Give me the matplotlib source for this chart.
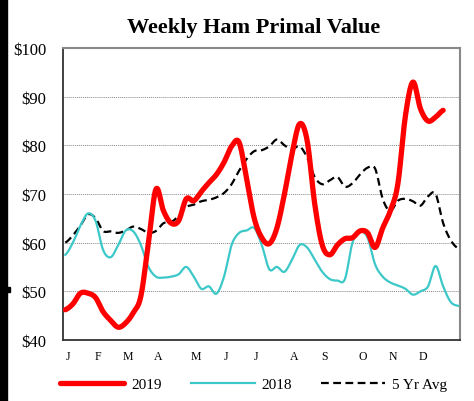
import numpy as np
import matplotlib
matplotlib.use("Agg")
import matplotlib.pyplot as plt
from matplotlib.patches import Rectangle

# weekly values ($/cwt)
val_2019 = [46.2, 47.4, 49.6, 49.6, 48.7, 45.8, 44.0, 42.6, 43.5, 45.6,
            49.0, 60.0, 71.0, 66.5, 64.0, 64.5, 69.0, 68.6, 70.5, 72.3,
            74.0, 76.5, 79.8, 80.6, 73.0, 65.0, 61.0, 59.8, 63.0, 70.0,
            78.2, 84.4, 81.0, 68.0, 59.5, 57.5, 59.5, 60.8, 61.0, 62.4,
            62.0, 59.0, 63.0, 66.5, 72.0, 86.0, 93.0, 87.5, 85.0, 85.8,
            87.2]
val_2018 = [57.5, 60.0, 63.5, 66.0, 64.5, 58.5, 57.0, 59.5, 62.5, 62.3,
            59.5, 55.0, 53.0, 52.8, 53.0, 53.5, 55.0, 53.0, 50.5, 51.0,
            49.5, 53.0, 59.5, 62.0, 62.5, 63.0, 59.5, 54.5, 55.0, 54.0,
            56.5, 59.5, 59.0, 56.5, 54.0, 52.5, 52.2, 52.5, 60.0, 62.2,
            61.0, 55.5, 53.0, 51.8, 51.2, 50.5, 49.3, 50.0, 51.0, 55.2,
            51.0, 47.8, 47.0]
val_5yr = [60.0, 61.5, 63.5, 65.8, 65.0, 62.4, 62.3, 62.0, 62.5, 63.3,
           62.8, 62.0, 62.4, 64.0, 64.2, 65.5, 67.3, 67.8, 68.5, 68.8,
           69.3, 70.2, 72.0, 74.8, 77.2, 78.8, 79.0, 79.8, 81.2, 80.0,
           79.2, 79.8, 77.5, 73.5, 72.0, 72.8, 73.5, 71.5, 72.2, 74.0,
           75.4, 75.2, 69.0, 66.5, 68.6, 69.0, 68.5, 67.6, 69.5, 70.0,
           64.0, 60.5, 58.8]

months = ["J", "F", "M", "A", "M", "J", "J", "A", "S", "O", "N", "D"]
month_week = [0, 4, 8, 12, 17, 21, 25, 30, 34, 39, 43, 47]


def smooth(y, n=12):
    # catmull-rom curve through the points, like Excel's smoothed line
    y = np.asarray(y, float)
    p = np.concatenate([[y[0]], y, [y[-1]]])
    xs, ys = [], []
    t = np.linspace(0, 1, n, endpoint=False)
    for i in range(len(y) - 1):
        p0, p1, p2, p3 = p[i], p[i + 1], p[i + 2], p[i + 3]
        seg = 0.5 * ((2 * p1) + (-p0 + p2) * t + (2 * p0 - 5 * p1 + 4 * p2 - p3) * t ** 2
                     + (-p0 + 3 * p1 - 3 * p2 + p3) * t ** 3)
        xs.append(i + t)
        ys.append(seg)
    xs.append([len(y) - 1])
    ys.append([y[-1]])
    return np.concatenate(xs), np.concatenate(ys)


plt.rcParams['font.family'] = ['Liberation Serif', 'DejaVu Serif']

fig = plt.figure(figsize=(4.74, 4.02), dpi=100)
ax = fig.add_axes([0.133, 0.152, 0.837, 0.726])

for v in [50, 60, 70, 80, 90]:
    ax.axhline(v, color='#888888', lw=0.7, ls=(0, (1, 1)), zorder=0)

x, y = smooth(val_5yr)
ax.plot(x, y, color='black', lw=1.6, ls=(0, (3.5, 2)), label='5 Yr Avg', zorder=2)
x, y = smooth(val_2018)
ax.plot(x, y, color='#3cc8c8', lw=1.6, label='2018', zorder=3)
x, y = smooth(val_2019)
ax.plot(x, y, color='#ff0000', lw=3.8, label='2019', zorder=4, solid_capstyle='round')

ax.set_xlim(-0.3, 52.2)
ax.set_ylim(40, 100)
ax.set_yticks([40, 50, 60, 70, 80, 90, 100])
ax.set_yticklabels(['$' + str(v) for v in [40, 50, 60, 70, 80, 90, 100]], fontsize=12)
ax.set_xticks([w + 0.3 for w in month_week])
ax.set_xticklabels(months, fontsize=8.5)
ax.tick_params(axis='both', length=0)
ax.tick_params(axis='y', pad=12)
ax.tick_params(axis='x', pad=7)

for s in ['top', 'right']:
    ax.spines[s].set_color('#888888')
    ax.spines[s].set_linewidth(1.5)
for s in ['left', 'bottom']:
    ax.spines[s].set_color('#333333')
    ax.spines[s].set_linewidth(1.3)

fig.text(0.536, 0.93, 'Weekly Ham Primal Value', ha='center', va='center',
         fontsize=16, fontweight='bold')

h, l = ax.get_legend_handles_labels()
order = [2, 1, 0]
fig.legend([h[i] for i in order], [l[i] for i in order], loc='center',
           bbox_to_anchor=(0.535, 0.042), ncol=3, frameon=False, fontsize=11,
           handlelength=4.2, columnspacing=1.9, handletextpad=0.45)

# black edge strip on the left of the original image
fig.patches.append(Rectangle((0, 0), 7 / 474, 1, transform=fig.transFigure,
                             color='black', zorder=10))
fig.patches.append(Rectangle((0, 1 - 293 / 402), 10 / 474, 5 / 402,
                             transform=fig.transFigure, color='black', zorder=10))

plt.savefig('out.png', dpi=100)
